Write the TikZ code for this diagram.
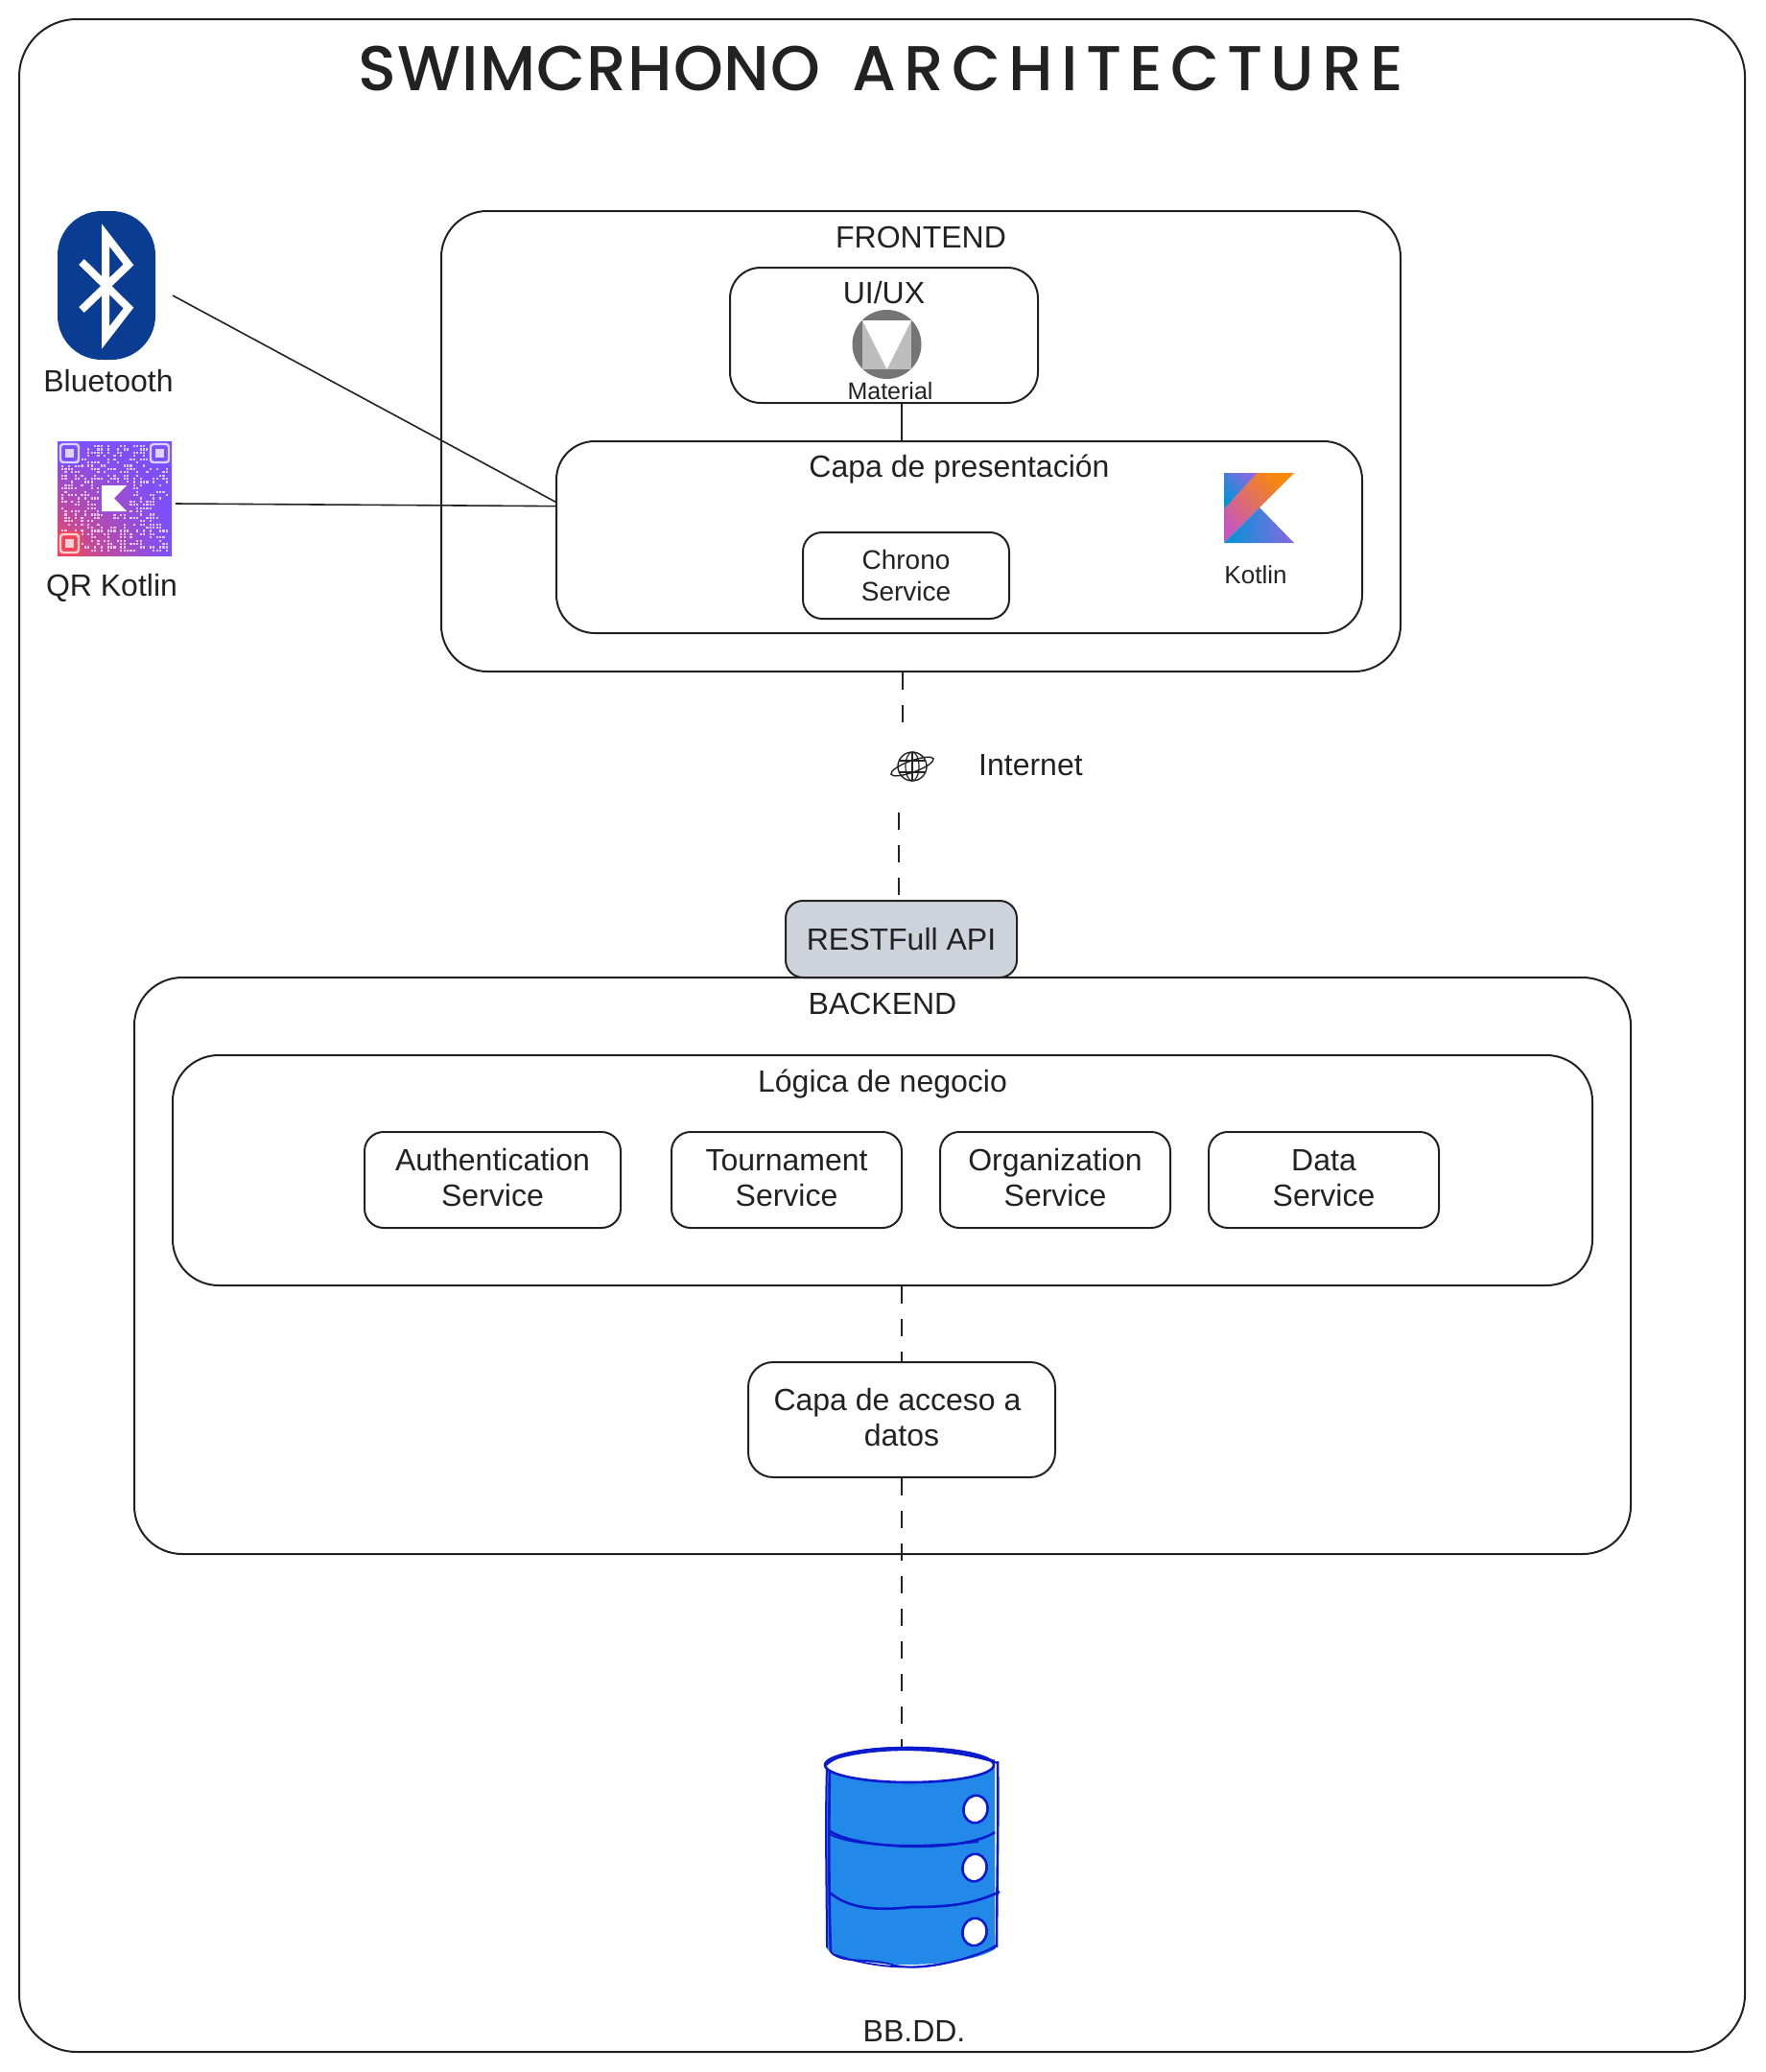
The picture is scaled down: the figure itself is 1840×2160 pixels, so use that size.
\documentclass[tikz,border=0pt]{standalone}
\usepackage{fontspec}
\setmainfont{Liberation Sans}
\newfontfamily\titlefont{Poppins Medium}
\usepackage{xcolor}
\usetikzlibrary{positioning, shadings}
\definecolor{ink}{HTML}{222222}
\definecolor{restgrey}{HTML}{CFD4DC}
\definecolor{btblue}{HTML}{0A3D91}
\definecolor{matdark}{HTML}{757575}
\definecolor{matlight}{HTML}{BDBDBD}
\definecolor{dbfill}{HTML}{2389E8}
\definecolor{dbline}{HTML}{0A1ACC}
\definecolor{qrviolet}{HTML}{7A50FF}
\definecolor{qrred}{HTML}{F2455A}
\definecolor{kotorange}{HTML}{F88909}
\definecolor{kotpink}{HTML}{C757BC}
\definecolor{kotblue}{HTML}{0095D5}
\definecolor{kotpurple}{HTML}{8A68E0}
\tikzset{
    box/.style={draw=ink, line width=2pt, rounded corners=#1, align=center, inner sep=0pt, text=ink,
        font=\fontsize{32}{37}\selectfont},
    box/.default=20pt,
    lab/.style={text=ink, inner sep=0pt, text height=23pt, text depth=7pt, font=\fontsize{32}{37}\selectfont},
    smalllab/.style={text=ink, inner sep=0pt, text height=19pt, text depth=1pt, font=\fontsize{#1}{30}\selectfont},
    link/.style={draw=ink, line width=1.6pt},
    dashlink/.style={draw=ink, line width=2.6pt, dash pattern=on 18pt off 16pt},
    sketch/.style={draw=dbline, line width=2.6pt},
}
\begin{document}
\begin{tikzpicture}[x=1pt, y=-1pt]
    \useasboundingbox (0,0) rectangle (1840,2160);

    \node[box=60pt, minimum width=1799pt, minimum height=2119pt] (page) at (919.5,1079.5) {};
    \node[text=ink, inner sep=0pt, font=\titlefont\fontsize{66}{74}\selectfont] (title) at (918.5,71)
        {\addfontfeature{LetterSpace=1.6}SWIMCRHONO\hspace{15pt} \addfontfeature{LetterSpace=12.4}ARCHITECTURE};

    % Frontend
    \node[box=48pt, minimum width=1000pt, minimum height=480pt] (frontend) at (960,460) {};
    \node[lab, below=16pt of frontend.north] (frontendlab) {FRONTEND};
    \node[box=32pt, minimum width=321pt, minimum height=141pt] (uiux) at (921.5,349.5) {};
    \node[lab, below=15.5pt of uiux.north] (uiuxlab) {UI/UX};
    \node[box=40pt, minimum width=840pt, minimum height=200pt] (capa) at (1000,560) {};
    \node[lab, below=15pt of capa.north] (capalab) {Capa de presentación};
    \node[box, minimum width=215pt, minimum height=90pt, font=\fontsize{28}{33}\selectfont] (chrono) at (944.5,600) {Chrono\\Service};
    \coordinate (uidrop) at (940,420);
    \draw[link] (uidrop) -- (uidrop |- capa.north);

    % Material logo
    \node[circle, fill=matdark, minimum size=72pt, inner sep=0pt] (material) at (924.5,359) {};
    \fill[matlight] (899,334) rectangle (950,385);
    \fill[white] (899,334) -- (950,334) -- (924.5,385) -- cycle;
    \node[smalllab=25, below=1.6pt of material, xshift=3.5pt] (materiallab) {Material};

    % Kotlin logo
    \node[minimum size=73pt, inner sep=0pt] (kotlin) at (1312.5,529.5) {};
    \shade[bottom color=kotblue, middle color=kotblue, top color=kotpurple, shading angle=-45]
        (1276,493) -- (1311,493) -- (1276,531) -- cycle;
    \shade[bottom color=kotpink, middle color=kotorange!85!kotpink, top color=kotorange, shading angle=-45]
        (1311,493) -- (1349,493) -- (1276,566) -- (1276,531) -- cycle;
    \shade[left color=kotblue, right color=kotpurple]
        (1313,529) -- (1349,566) -- (1276,566) -- cycle;
    \node[smalllab=26, below=23pt of kotlin, xshift=-3.5pt] (kotlinlab) {Kotlin};

    % Bluetooth
    \node[fill=btblue, rounded corners=46pt, minimum width=102pt, minimum height=155pt, inner sep=0pt] (bt) at (111,297.5) {};
    \draw[white, line width=8pt] (85,273) -- (134,321) -- (110,352) -- (110,245) -- (134,276) -- (85,323);
    \node[lab, below=10pt of bt, xshift=2pt] (btlab) {Bluetooth};
    \coordinate (btout) at (180,308);
    \draw[link] (btout) -- (capa.175);

    % QR code
    \node[minimum size=119pt, inner sep=0pt] (qr) at (119.5,519.5) {};
    \shade[lower left=qrred, upper right=qrviolet, upper left=qrviolet, lower right=qrviolet] (60,460) rectangle (179,579);
    \pgfmathsetseed{17}
    \foreach \col in {0,...,32} {
        \foreach \row in {0,...,32} {
            \pgfmathparse{rnd<0.45 ? 1 : 0}
            \ifnum\pgfmathresult=1
                \fill[white, opacity=.7] ({64+\col*3.4},{464+\row*3.4}) rectangle ++(2.1,2.1);
            \fi
        }
    }
    \fill[qrviolet!75!qrred] (103,503) rectangle (135,536);
    \fill[white] (106,506) -- (132,506) -- (119,519.5) -- (132,533) -- (106,533) -- cycle;
    \foreach \qx/\qy/\qc in {63/463/qrviolet, 157/463/qrviolet, 63/557/qrred} {
        \fill[\qc] (\qx-3,\qy-3) rectangle ++(25,25);
        \draw[white, opacity=.75, line width=2.4pt, rounded corners=3pt] (\qx,\qy) rectangle ++(19,19);
        \fill[white, opacity=.75] (\qx+5,\qy+5) rectangle ++(9,9);
    }
    \node[lab, below=19pt of qr, xshift=-3pt] (qrlab) {QR Kotlin};
    \coordinate (qrout) at (183,525);
    \draw[link] (qrout) -- ([yshift=-4.5pt]capa.175);

    % Internet
    \node[circle, draw=ink, line width=1.4pt, minimum size=30pt, inner sep=0pt] (globe) at (951,799) {};
    \begin{scope}[shift={(globe.center)}, draw=ink, line width=1.2pt]
        \draw (0,-15) -- (0,15);
        \draw (0,0) ellipse (7 and 15);
        \draw (-13,-6) -- (13,-6);
        \draw (-13,6) -- (13,6);
        \draw[line width=1.4pt, rotate=20] (0,0) ellipse (23.5 and 6);
    \end{scope}
    \node[lab, anchor=west] (netlab) at (1020,800) {Internet};
    \coordinate (netup) at (941,753);
    \coordinate (netdown) at (937,847);
    \draw[dashlink] (frontend.south -| netup) -- (netup);

    % Backend
    \node[box=18pt, fill=restgrey, minimum width=241pt, minimum height=80pt] (rest) at (939.5,979) {RESTFull API};
    \draw[dashlink] (netdown) -- (rest.north -| netdown);
    \node[box=50pt, minimum width=1560pt, minimum height=601pt] (backend) at (920,1319.5) {};
    \node[lab, below=16pt of backend.north] (backendlab) {BACKEND};
    \node[box=48pt, minimum width=1480pt, minimum height=240pt] (logica) at (920,1220) {};
    \node[lab, below=16pt of logica.north] (logicalab) {Lógica de negocio};
    \node[box, minimum width=267pt, minimum height=100pt] (auth) at (513.5,1230) {Authentication\\Service\vspace{4pt}};
    \node[box, minimum width=240pt, minimum height=100pt, right=51pt of auth] (tournament) {Tournament\\Service\vspace{4pt}};
    \node[box, minimum width=240pt, minimum height=100pt, right=38pt of tournament] (organization) {Organization\\Service\vspace{4pt}};
    \node[box, minimum width=240pt, minimum height=100pt, right=38pt of organization] (data) {Data\\Service\vspace{4pt}};
    \node[box=26pt, minimum width=320pt, minimum height=120pt] (acceso) at (940,1480) {Capa de acceso a\hbox to 9pt{}\\datos\vspace{4pt}};
    \draw[dashlink] (acceso.north |- logica.south) -- (acceso.north);

    % Database
    \node[minimum width=180pt, minimum height=225pt, inner sep=0pt] (db) at (950,1937.5) {};
    \draw[dashlink] (acceso.south) -- (acceso.south |- db.north);
    \fill[dbfill] (861,1840) -- (861,2030) .. controls (875,2052) and (1000,2055) .. (1037,2032) -- (1037,1840) -- cycle;
    \draw[sketch, fill=white] (948,1840) ellipse (88 and 18);
    \draw[sketch] (861,1840) .. controls (880,1820) and (960,1815) .. (1037,1836); % Rough top
    \draw[sketch, line width=2pt] (866,1835) .. controls (900,1822) and (980,1818) .. (1040,1838);
    \draw[sketch, line width=2pt] (862,1842) .. controls (860,1900) and (862,1980) .. (862,2030);
    \draw[sketch] (865,1845) .. controls (864,1900) and (864,1980) .. (866,2035);
    \draw[sketch] (1040,1836) .. controls (1041,1900) and (1039,1980) .. (1039,2030);
    \draw[sketch] (864,1908) .. controls (890,1928) and (1005,1932) .. (1037,1910); % First band
    \draw[sketch, line width=1.8pt] (865,1912) .. controls (890,1926) and (960,1926) .. (1020,1920);
    \draw[sketch] (865,1973) .. controls (885,1990) and (915,1992) .. (950,1988) .. controls (990,1988) and (1015,1985) .. (1042,1972); % Second band
    \draw[sketch, line width=1.8pt] (866,2035) .. controls (880,2048) and (900,2040) .. (930,2048) .. controls (960,2056) and (1000,2045) .. (1038,2030);
    \draw[sketch, line width=1.8pt] (868,2037) .. controls (900,2048) and (930,2052) .. (960,2050) .. controls (990,2047) and (1020,2040) .. (1038,2028);
    \foreach \hx/\hy in {1017/1886,1016/1947,1016/2014} {
        \draw[sketch, fill=white, rotate around={-12:(\hx,\hy)}] (\hx,\hy) ellipse (12.5 and 14.5);
    }
    \node[lab, below=55pt of db, xshift=3pt] (dblab) {BB.DD.};
\end{tikzpicture}
\end{document}
